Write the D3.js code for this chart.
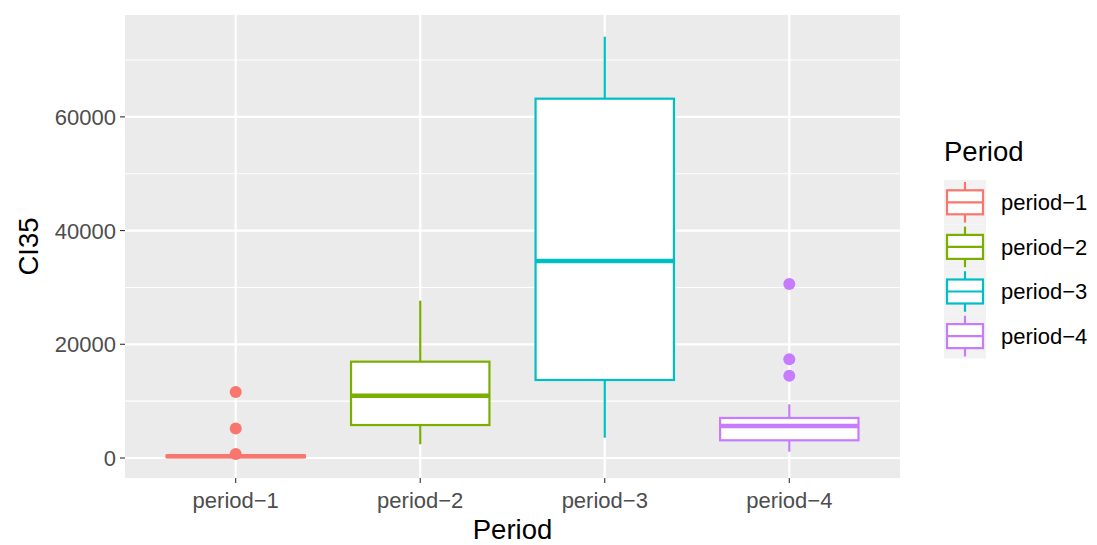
<!DOCTYPE html>
<html><head><meta charset="utf-8">
<script src="https://cdn.jsdelivr.net/npm/d3@7"></script>
<style>body{margin:0;background:#fff}svg{display:block;font-family:"Liberation Sans",Arial,sans-serif}</style>
</head><body><svg id="c" width="1097" height="545"></svg>
<script>
const categories = ["period-1","period-2","period-3","period-4"];
const colors = ["#F8766D","#7CAE00","#00BFC4","#C77CFF"];
const whiskerLow = [50, 2410, 3570, 1110];
const q1 = [150, 5800, 13720, 3110];
const median = [300, 10950, 34650, 5630];
const q3 = [450, 16940, 63200, 7040];
const whiskerHigh = [600, 27670, 74100, 9440];
const outliers = [[700, 5190, 11610], [], [], [14480, 17360, 30600]];
const yTicks = [0, 20000, 40000, 60000];
const yMinor = [10000, 30000, 50000, 70000];

const svg = d3.select("#c");
const L = 125, R = 900, T = 15, B = 478;
const x = d3.scaleBand().domain(categories).range([L, R]).paddingOuter(0.6 * 184.5 / 184.5 * 0).padding(0);
// ggplot discrete: range [0.4, 4.6]
const xs = d3.scaleLinear().domain([0.4, 4.6]).range([L, R]);
const xc = c => xs(categories.indexOf(c) + 1);
const y = d3.scaleLinear().domain([-3520, 77920]).range([B, T]);
const lab = c => c.replace("-", "\u2212");

svg.append("rect").attr("x", L).attr("y", T).attr("width", R - L).attr("height", B - T).attr("fill", "#EBEBEB");
const g = svg.append("g");
g.selectAll(".minor").data(yMinor).join("line").attr("x1", L).attr("x2", R)
  .attr("y1", d => y(d)).attr("y2", d => y(d)).attr("stroke", "#fff").attr("stroke-width", 1.1);
g.selectAll(".major").data(yTicks).join("line").attr("x1", L).attr("x2", R)
  .attr("y1", d => y(d)).attr("y2", d => y(d)).attr("stroke", "#fff").attr("stroke-width", 2.2);
g.selectAll(".vmaj").data(categories).join("line").attr("y1", T).attr("y2", B)
  .attr("x1", d => xc(d)).attr("x2", d => xc(d)).attr("stroke", "#fff").attr("stroke-width", 2.2);

const bw = 0.75 * (xs(1) - xs(0));
categories.forEach((c, i) => {
  const cx = xc(c), col = colors[i];
  const bg = svg.append("g");
  bg.append("line").attr("x1", cx).attr("x2", cx).attr("y1", y(q3[i])).attr("y2", y(whiskerHigh[i])).attr("stroke", col).attr("stroke-width", 2.2);
  bg.append("line").attr("x1", cx).attr("x2", cx).attr("y1", y(q1[i])).attr("y2", y(whiskerLow[i])).attr("stroke", col).attr("stroke-width", 2.2);
  bg.append("rect").attr("x", cx - bw / 2).attr("width", bw).attr("y", y(q3[i])).attr("height", Math.max(0, y(q1[i]) - y(q3[i])))
    .attr("fill", "#fff").attr("stroke", col).attr("stroke-width", 2.2);
  bg.append("line").attr("x1", cx - bw / 2).attr("x2", cx + bw / 2).attr("y1", y(median[i])).attr("y2", y(median[i])).attr("stroke", col).attr("stroke-width", 4.5);
  bg.selectAll("circle").data(outliers[i]).join("circle").attr("cx", cx).attr("cy", d => y(d)).attr("r", 6).attr("fill", col);
});

// axes
const ya = svg.append("g");
yTicks.forEach(t => {
  ya.append("line").attr("x1", L - 5).attr("x2", L).attr("y1", y(t)).attr("y2", y(t)).attr("stroke", "#333").attr("stroke-width", 1.1);
  ya.append("text").attr("x", L - 9).attr("y", y(t)).attr("dy", "0.36em").attr("text-anchor", "end")
    .attr("font-size", 22).attr("fill", "#4D4D4D").text(t);
});
const xa = svg.append("g");
categories.forEach(c => {
  xa.append("line").attr("x1", xc(c)).attr("x2", xc(c)).attr("y1", B).attr("y2", B + 5).attr("stroke", "#333").attr("stroke-width", 1.1);
  xa.append("text").attr("x", xc(c)).attr("y", B + 30).attr("text-anchor", "middle")
    .attr("font-size", 22).attr("fill", "#4D4D4D").text(lab(c));
});
svg.append("text").attr("x", (L + R) / 2).attr("y", 539).attr("text-anchor", "middle").attr("font-size", 27.5).attr("fill", "#000").text("Period");
svg.append("text").attr("transform", `translate(38,${(T + B) / 2}) rotate(-90)`).attr("text-anchor", "middle")
  .attr("font-size", 27.5).attr("fill", "#000").text("CI35");

// legend
const lg = svg.append("g");
lg.append("text").attr("x", 944).attr("y", 161).attr("font-size", 27.5).attr("fill", "#000").text("Period");
const kx = 944, kw = 42, kh = 44.6, ky0 = 180;
categories.forEach((c, i) => {
  const ky = ky0 + i * kh, col = colors[i], cx = kx + kw / 2, cy = ky + kh / 2;
  lg.append("rect").attr("x", kx).attr("y", ky).attr("width", kw).attr("height", kh).attr("fill", "#F2F2F2");
  lg.append("line").attr("x1", cx).attr("x2", cx).attr("y1", ky + 2).attr("y2", ky + kh - 2).attr("stroke", col).attr("stroke-width", 2.2);
  lg.append("rect").attr("x", kx + 3).attr("y", cy - 12).attr("width", kw - 6).attr("height", 24).attr("fill", "#fff").attr("stroke", col).attr("stroke-width", 2.2);
  lg.append("line").attr("x1", kx + 3).attr("x2", kx + kw - 3).attr("y1", cy).attr("y2", cy).attr("stroke", col).attr("stroke-width", 2.2);
  lg.append("text").attr("x", 1001).attr("y", cy).attr("dy", "0.36em").attr("font-size", 22).attr("fill", "#000").text(lab(c));
});
</script></body></html>
